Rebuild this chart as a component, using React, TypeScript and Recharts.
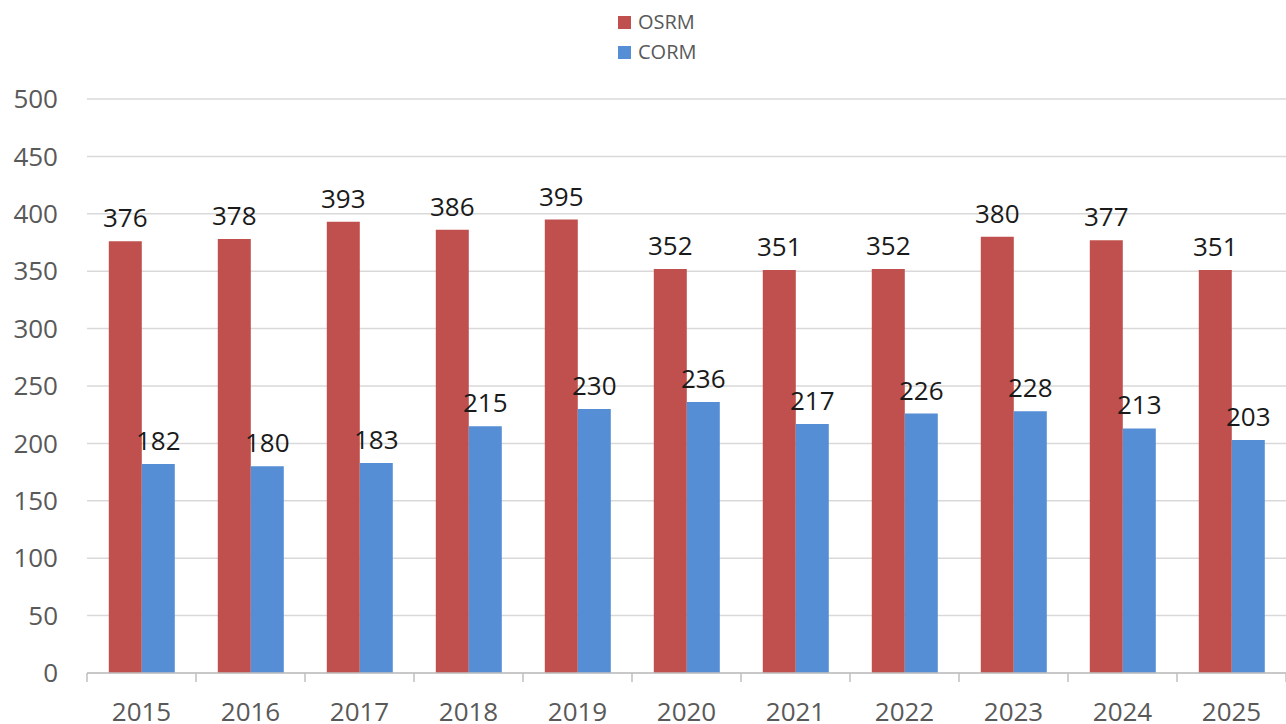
import React from 'react';
import { BarChart, Bar, XAxis, YAxis, CartesianGrid, Legend, LabelList } from 'recharts';

const years = ['2015', '2016', '2017', '2018', '2019', '2020', '2021', '2022', '2023', '2024', '2025'];
const osrm = [376, 378, 393, 386, 395, 352, 351, 352, 380, 377, 351];
const corm = [182, 180, 183, 215, 230, 236, 217, 226, 228, 213, 203];
const yTicks = [0, 50, 100, 150, 200, 250, 300, 350, 400, 450, 500];

const data = years.map((y, i) => ({ year: y, OSRM: osrm[i], CORM: corm[i] }));

const FONT = '"Open Sans", "Noto Sans", sans-serif';
const RED = '#C0504D';
const BLUE = '#558ED5';

const XTick = (props: any) => {
  const { x, y, payload, index } = props;
  const axisW = typeof props.width === 'number' && props.width > 0 ? props.width : 1199;
  const band = axisW / years.length;
  const top = y - 8;
  return (
    <g>
      <line x1={x - band / 2} y1={top} x2={x - band / 2} y2={top + 9} stroke="#BFBFBF" strokeWidth={1.5} />
      {index === years.length - 1 && (
        <line x1={x + band / 2} y1={top} x2={x + band / 2} y2={top + 9} stroke="#BFBFBF" strokeWidth={1.5} />
      )}
      <text x={x} y={top + 48} textAnchor="middle" fill="#595959" fontSize={26} fontFamily={FONT}>
        {payload.value}
      </text>
    </g>
  );
};

const LegendContent = () => (
  <div style={{ fontFamily: FONT, fontSize: 20, color: '#595959', lineHeight: '30px' }}>
    {[{ n: 'OSRM', c: RED }, { n: 'CORM', c: BLUE }].map((it) => (
      <div key={it.n} style={{ display: 'flex', alignItems: 'center' }}>
        <span style={{ display: 'inline-block', width: 13, height: 13, background: it.c, marginRight: 7 }} />
        <span>{it.n}</span>
      </div>
    ))}
  </div>
);

export default function App() {
  return (
    <div style={{ position: 'absolute', left: 0, top: 0, width: 1286, height: 724, background: '#fff' }}>
      <BarChart
        width={1286}
        height={724}
        data={data}
        margin={{ top: 39, right: 0, left: 0, bottom: 0 }}
        barCategoryGap="20%"
        barGap={0}
      >
        <CartesianGrid vertical={false} stroke="#D9D9D9" strokeWidth={1.5} />
        <XAxis
          dataKey="year"
          axisLine={{ stroke: '#BFBFBF', strokeWidth: 1.5 }}
          tickLine={false}
          tick={<XTick />}
          height={51}
          interval={0}
        />
        <YAxis
          domain={[0, 500]}
          ticks={yTicks}
          width={87}
          axisLine={false}
          tickLine={false}
          tickSize={0}
          tickMargin={29}
          tick={{ fill: '#595959', fontSize: 26, fontFamily: FONT }}
          interval={0}
        />
        <Legend
          verticalAlign="top"
          align="center"
          layout="vertical"
          content={<LegendContent />}
          wrapperStyle={{ left: 618, top: 7, width: 100, height: 60 }}
        />
        <Bar dataKey="OSRM" fill={RED} isAnimationActive={false}>
          <LabelList dataKey="OSRM" position="top" offset={14} fill="#1a1a1a" fontSize={26} fontFamily={FONT} />
        </Bar>
        <Bar dataKey="CORM" fill={BLUE} isAnimationActive={false}>
          <LabelList dataKey="CORM" position="top" offset={14} fill="#1a1a1a" fontSize={26} fontFamily={FONT} />
        </Bar>
      </BarChart>
    </div>
  );
}
